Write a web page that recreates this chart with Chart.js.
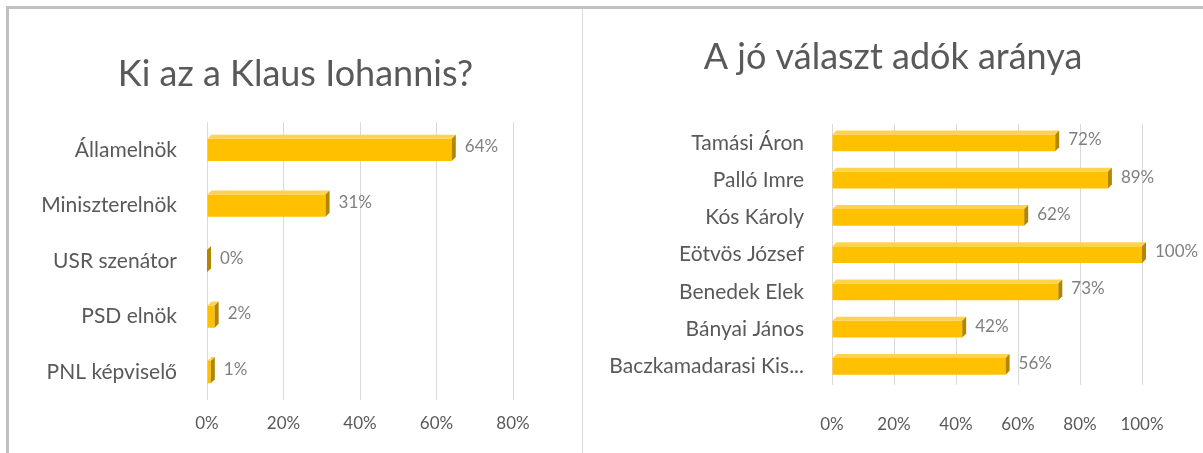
<!DOCTYPE html>
<html>
<head>
<meta charset="utf-8">
<script src="https://cdn.jsdelivr.net/npm/chart.js@4.4.0/dist/chart.umd.min.js"></script>
<style>
  body { margin: 0; background: #fff; }
  #frame { position: absolute; left: 6px; top: 6px; width: 1300px; height: 500px;
           border-top: 3px solid #c0c0c0; border-left: 3px solid #c0c0c0; }
  #sep { position: absolute; left: 582px; top: 9px; width: 1px; height: 444px; background: #dadada; }
  #bal { position: absolute; left: 9px; top: 9px; }
  #jobb { position: absolute; left: 584px; top: 9px; }
</style>
</head>
<body>
<div id="frame"></div>
<div id="sep"></div>
<div id="bal"><canvas id="chartBal" width="573" height="444"></canvas></div>
<div id="jobb"><canvas id="chartJobb" width="618" height="444"></canvas></div>
<script>
// Bal oldali diagram adatai
const cimBal = "Ki az a Klaus Iohannis?";
const kategoriakBal = ["Államelnök", "Miniszterelnök", "USR szenátor", "PSD elnök", "PNL képviselő"];
const ertekekBal = [64, 31, 0, 2, 1];

// Jobb oldali diagram adatai
const cimJobb = "A jó választ adók aránya";
const kategoriakJobb = ["Tamási Áron", "Palló Imre", "Kós Károly", "Eötvös József", "Benedek Elek", "Bányai János", "Baczkamadarasi Kis..."];
const ertekekJobb = [72, 89, 62, 100, 73, 42, 56];

const betu = "Lato, 'Open Sans', sans-serif";
const szurke = '#595959';
const mely = 4; // 3D oldal mélysége

// 3D hatás + adatcímkék
const terPlugin = {
    id: 'ter',
    afterDatasetsDraw(chart) {
        const ctx = chart.ctx;
        const meta = chart.getDatasetMeta(0);
        const adatok = chart.data.datasets[0].data;
        meta.data.forEach((bar, i) => {
            const p = bar.getProps(['x', 'y', 'base', 'height'], true);
            const top = p.y - p.height / 2;
            const bottom = p.y + p.height / 2;
            ctx.save();
            // felső lap
            ctx.fillStyle = '#ffd34d';
            ctx.beginPath();
            ctx.moveTo(p.base, top);
            ctx.lineTo(p.base + mely, top - mely);
            ctx.lineTo(p.x + mely, top - mely);
            ctx.lineTo(p.x, top);
            ctx.closePath();
            ctx.fill();
            // oldal lap
            ctx.fillStyle = '#b38600';
            ctx.beginPath();
            ctx.moveTo(p.x, top);
            ctx.lineTo(p.x + mely, top - mely);
            ctx.lineTo(p.x + mely, bottom - mely);
            ctx.lineTo(p.x, bottom);
            ctx.closePath();
            ctx.fill();
            // címke
            ctx.fillStyle = '#7f7f7f';
            ctx.font = "17px " + betu;
            ctx.textBaseline = 'middle';
            ctx.textAlign = 'left';
            ctx.fillText(adatok[i] + '%', p.x + mely + 9, p.y - 3);
            ctx.restore();
        });
    }
};

function diagram(id, cim, kategoriak, ertekek, opciok) {
    const ctx = document.getElementById(id);
    return new Chart(ctx, {
        type: 'bar',
        data: {
            labels: kategoriak,
            datasets: [{
                data: ertekek,
                backgroundColor: '#ffc000',
                borderWidth: 0,
                barPercentage: opciok.barPercentage,
                categoryPercentage: 1
            }]
        },
        options: {
            indexAxis: 'y',
            responsive: false,
            animation: false,
            layout: { padding: 0 },
            plugins: {
                legend: { display: false },
                tooltip: { enabled: false },
                title: {
                    display: true,
                    text: cim,
                    color: szurke,
                    font: { family: betu, size: 36, weight: 'normal' },
                    padding: { top: opciok.cimFent, bottom: opciok.cimLent }
                }
            },
            scales: {
                x: {
                    min: 0,
                    max: opciok.max,
                    afterFit: s => { s.height = opciok.xHeight; },
                    ticks: {
                        stepSize: 20,
                        color: szurke,
                        padding: opciok.xPadding,
                        font: { family: betu, size: 17 },
                        callback: v => v + '%'
                    },
                    grid: { color: '#d9d9d9', drawTicks: false },
                    border: { display: false }
                },
                y: {
                    afterFit: s => { s.width = opciok.yWidth; },
                    ticks: {
                        color: szurke,
                        padding: opciok.yPadding,
                        font: { family: betu, size: 21 }
                    },
                    grid: { display: false },
                    border: { display: false }
                },
                // üres jobb oldali sáv a címkéknek
                y2: {
                    type: 'linear',
                    position: 'right',
                    afterFit: s => { s.width = opciok.jobbSav; },
                    ticks: { display: false },
                    grid: { display: false },
                    border: { display: false }
                }
            }
        },
        plugins: [terPlugin]
    });
}

diagram('chartBal', cimBal, kategoriakBal, ertekekBal, {
    barPercentage: 0.4, max: 80, jobbSav: 69, xHeight: 53,
    cimFent: 44, cimLent: 26, xPadding: 13, yWidth: 198, yPadding: 22
});

diagram('chartJobb', cimJobb, kategoriakJobb, ertekekJobb, {
    barPercentage: 0.45, max: 100, jobbSav: 60, xHeight: 68,
    cimFent: 27, cimLent: 45, xPadding: 29, yWidth: 248, yPadding: 20
});
</script>
</body>
</html>
